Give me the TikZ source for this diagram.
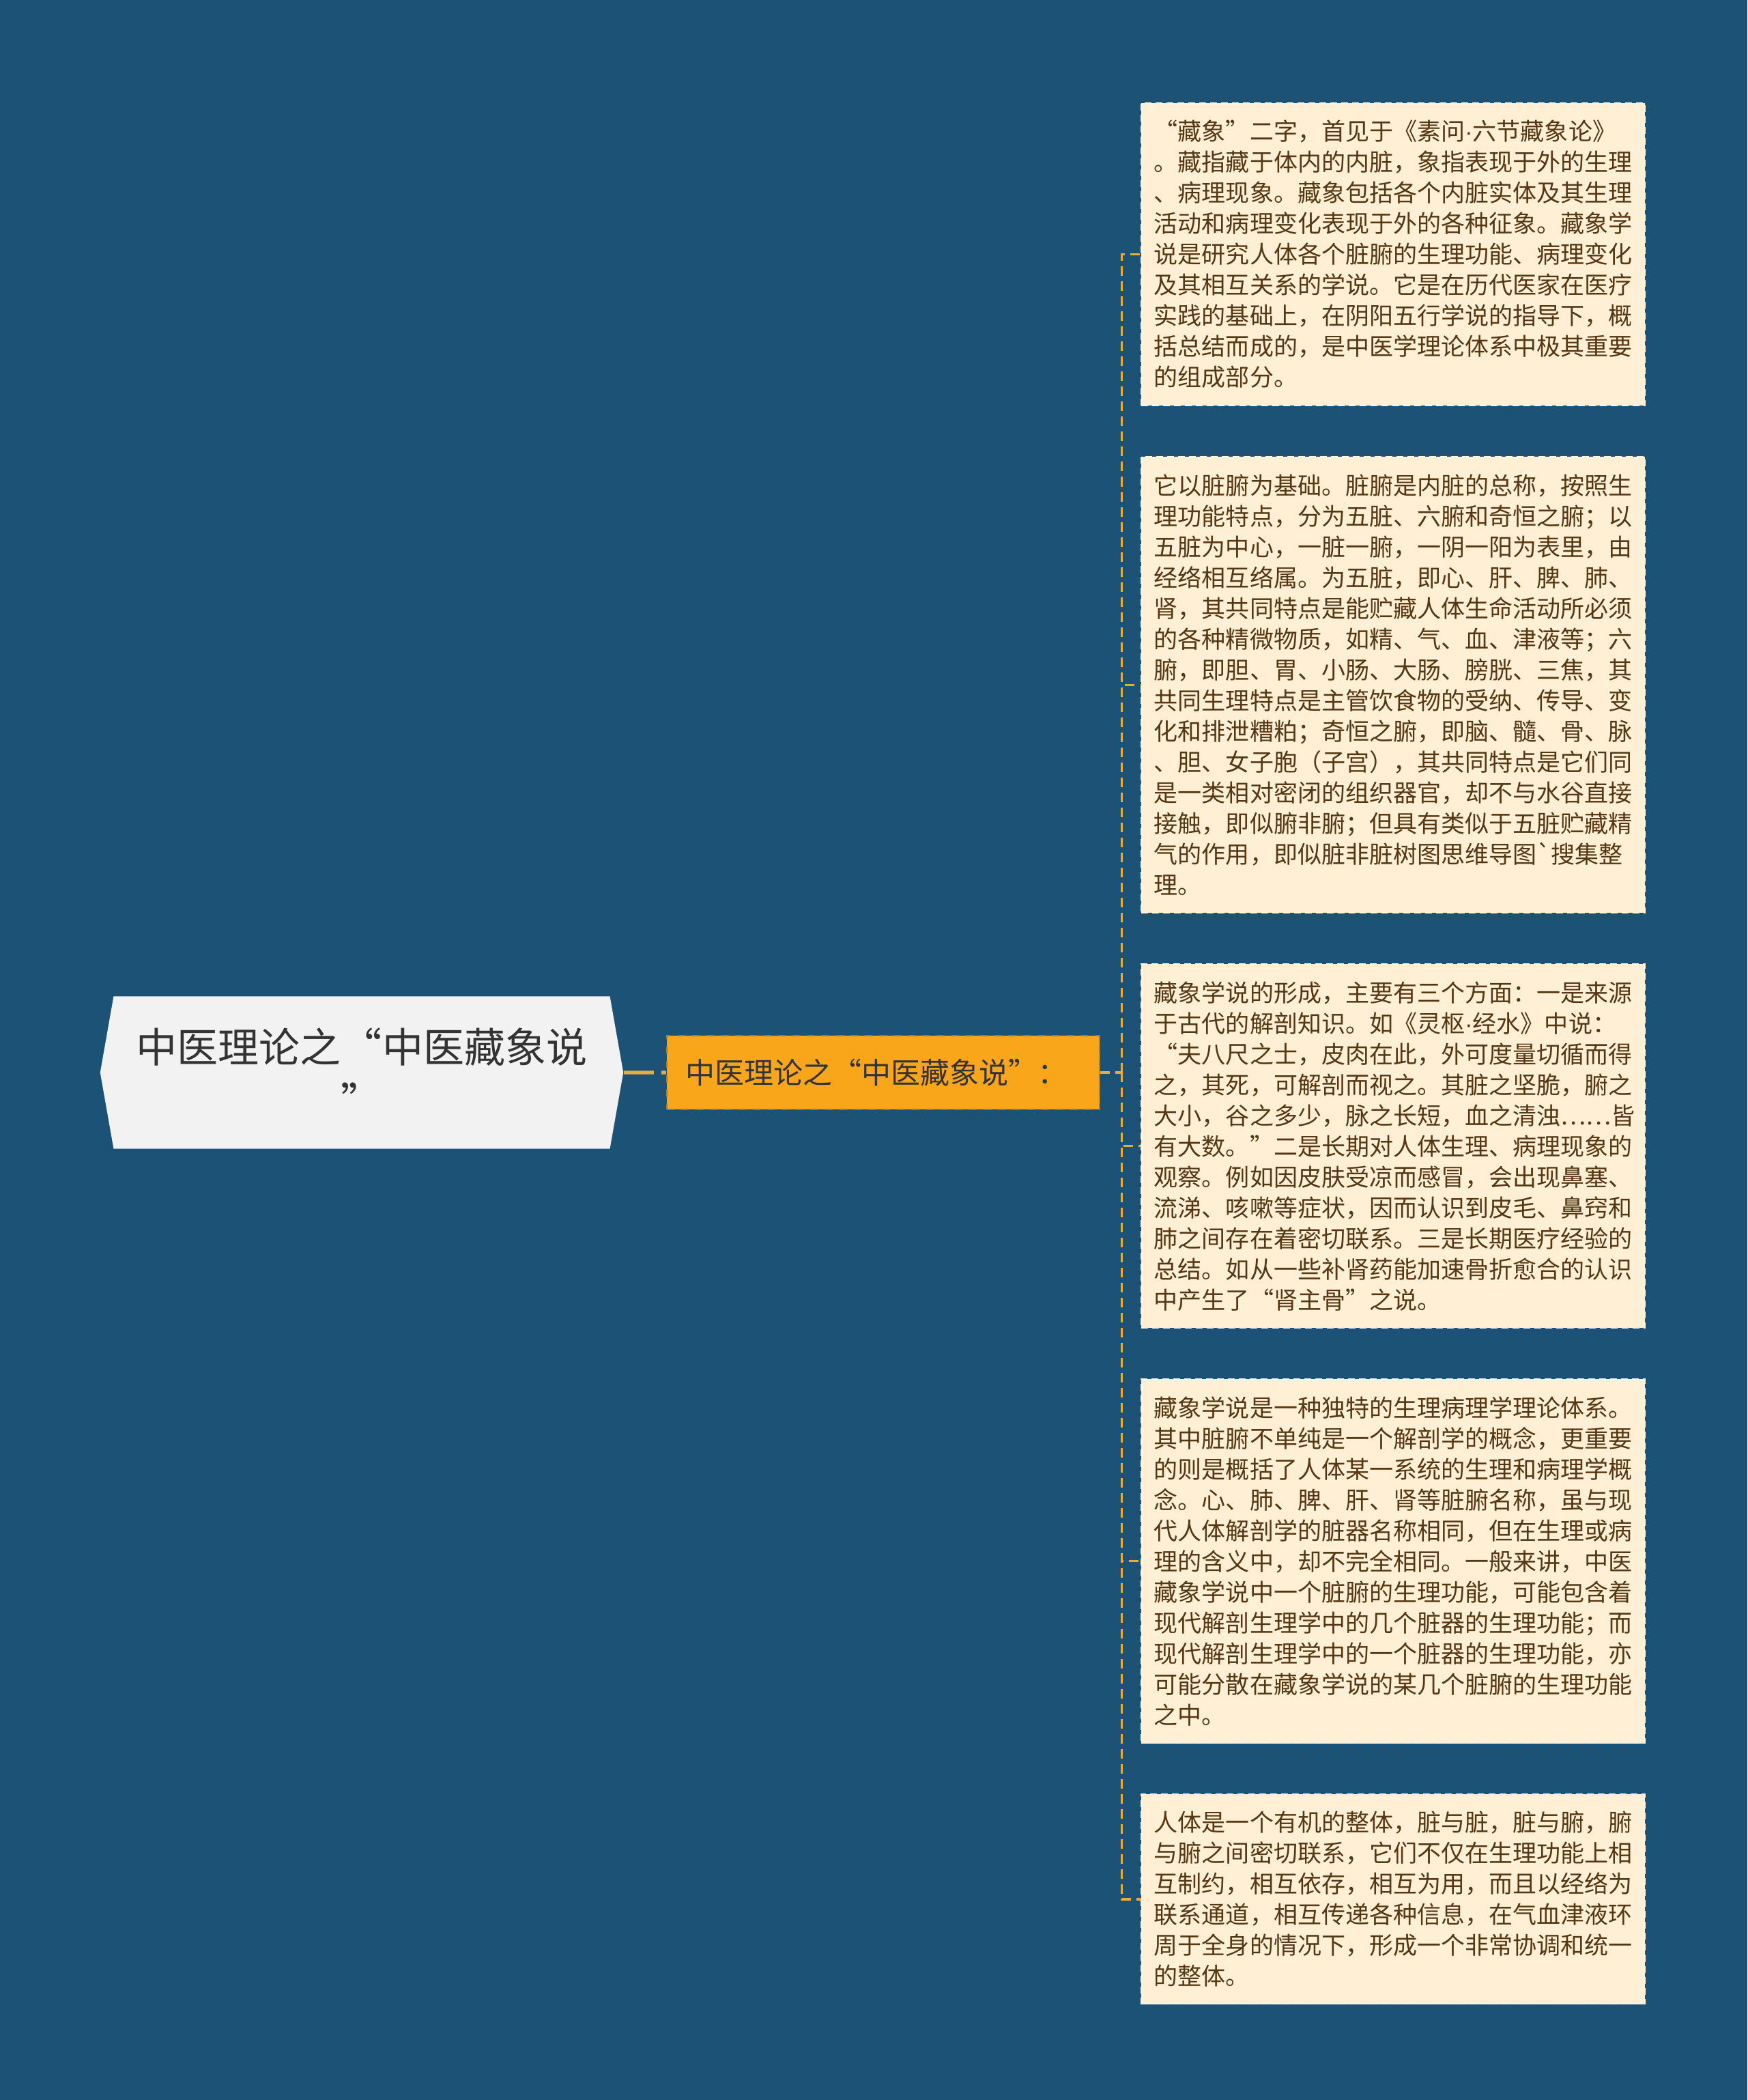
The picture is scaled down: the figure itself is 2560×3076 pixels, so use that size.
\documentclass[tikz,border=0pt]{standalone}
\usepackage{fontspec}
\newfontfamily\cjk{Noto Sans CJK SC}
\newfontfamily\latin{Liberation Sans}
\usepackage{tikz}
\usetikzlibrary{shapes.symbols, positioning}
\definecolor{bgblue}{RGB}{27,82,118}
\definecolor{topicgray}{RGB}{242,242,242}
\definecolor{topictext}{RGB}{51,51,51}
\definecolor{suborange}{RGB}{250,166,26}
\definecolor{subedge}{RGB}{170,120,40}
\definecolor{leaffill}{RGB}{255,240,213}
\definecolor{leafedge}{RGB}{252,248,240}
\definecolor{leaftext}{RGB}{85,55,20}
\definecolor{linkgold}{RGB}{233,172,56}
\newcommand{\middot}{{\latin ·}}

\begin{document}
\begin{tikzpicture}[x=0.01cm, y=-0.01cm]
    \tikzstyle{topicbox} = [signal, signal to=east and west, signal pointer angle=160, minimum width=7.66cm, minimum height=2.23cm, fill=topicgray, text=topictext, align=center, inner sep=0pt, font=\cjk\fontsize{17.07pt}{22.5pt}\selectfont]
    \tikzstyle{subbox} = [rectangle, text width=5.8cm, inner xsep=0.27cm, minimum height=1.08cm, fill=suborange, draw=subedge, dashed, line width=0.6pt, text=topictext, align=left, font=\cjk\fontsize{12.23pt}{14pt}\selectfont]
    \tikzstyle{leaf} = [rectangle, text width=7.0cm, inner xsep=0.19cm, inner ysep=0.1cm, fill=leaffill, draw=leafedge, line width=0.5pt, dash pattern=on 0.1cm off 0.06cm, text=leaftext, align=left, font=\cjk\fontsize{9.96pt}{12.8pt}\selectfont]
    \tikzstyle{link} = [draw=linkgold, line width=0.9pt, dash pattern=on 0.14cm off 0.08cm]
    \tikzstyle{thicklink} = [draw=linkgold, line width=1.5pt, dash pattern=on 0.44cm off 0.11cm]
    \useasboundingbox[fill=bgblue] (0,0) rectangle (2560,3076);
    % Nodes
    \node (topic) [topicbox] at (530,1571) {中医理论之“中医藏象说\\”};
    \node (subtopic) [subbox, right=0.62cm of topic] {中医理论之“中医藏象说”：};
    \coordinate[right=0.31cm of subtopic] (hub);
    \node (origin) [leaf, minimum height=4.43cm, anchor=north west] at (1671,150) {“藏象”二字，首见于《素问\middot 六节藏象论》\\。藏指藏于体内的内脏，象指表现于外的生理\\、病理现象。藏象包括各个内脏实体及其生理\\活动和病理变化表现于外的各种征象。藏象学\\说是研究人体各个脏腑的生理功能、病理变化\\及其相互关系的学说。它是在历代医家在医疗\\实践的基础上，在阴阳五行学说的指导下，概\\括总结而成的，是中医学理论体系中极其重要\\的组成部分。};
    \node (organs) [leaf, minimum height=6.68cm, below=0.73cm of origin] {它以脏腑为基础。脏腑是内脏的总称，按照生\\理功能特点，分为五脏、六腑和奇恒之腑；以\\五脏为中心，一脏一腑，一阴一阳为表里，由\\经络相互络属。为五脏，即心、肝、脾、肺、\\肾，其共同特点是能贮藏人体生命活动所必须\\的各种精微物质，如精、气、血、津液等；六\\腑，即胆、胃、小肠、大肠、膀胱、三焦，其\\共同生理特点是主管饮食物的受纳、传导、变\\化和排泄糟粕；奇恒之腑，即脑、髓、骨、脉\\、胆、女子胞（子宫），其共同特点是它们同\\是一类相对密闭的组织器官，却不与水谷直接\\接触，即似腑非腑；但具有类似于五脏贮藏精\\气的作用，即似脏非脏树图思维导图`搜集整\\理。};
    \node (formation) [leaf, minimum height=5.33cm, below=0.73cm of organs] {藏象学说的形成，主要有三个方面：一是来源\\于古代的解剖知识。如《灵枢\middot 经水》中说：\\“夫八尺之士，皮肉在此，外可度量切循而得\\之，其死，可解剖而视之。其脏之坚脆，腑之\\大小，谷之多少，脉之长短，血之清浊……皆\\有大数。”二是长期对人体生理、病理现象的\\观察。例如因皮肤受凉而感冒，会出现鼻塞、\\流涕、咳嗽等症状，因而认识到皮毛、鼻窍和\\肺之间存在着密切联系。三是长期医疗经验的\\总结。如从一些补肾药能加速骨折愈合的认识\\中产生了“肾主骨”之说。};
    \node (theory) [leaf, minimum height=5.33cm, below=0.73cm of formation] {藏象学说是一种独特的生理病理学理论体系。\\其中脏腑不单纯是一个解剖学的概念，更重要\\的则是概括了人体某一系统的生理和病理学概\\念。心、肺、脾、肝、肾等脏腑名称，虽与现\\代人体解剖学的脏器名称相同，但在生理或病\\理的含义中，却不完全相同。一般来讲，中医\\藏象学说中一个脏腑的生理功能，可能包含着\\现代解剖生理学中的几个脏器的生理功能；而\\现代解剖生理学中的一个脏器的生理功能，亦\\可能分散在藏象学说的某几个脏腑的生理功能\\之中。};
    \node (whole) [leaf, minimum height=3.07cm, below=0.73cm of theory] {人体是一个有机的整体，脏与脏，脏与腑，腑\\与腑之间密切联系，它们不仅在生理功能上相\\互制约，相互依存，相互为用，而且以经络为\\联系通道，相互传递各种信息，在气血津液环\\周于全身的情况下，形成一个非常协调和统一\\的整体。};
    % Connectors
    \draw [thicklink] (topic) -- (subtopic);
    \draw [link] (subtopic) -- (hub);
    \foreach \leafname in {origin, organs, formation, theory, whole}
        \draw [link] (hub) |- (\leafname);
\end{tikzpicture}
\end{document}
